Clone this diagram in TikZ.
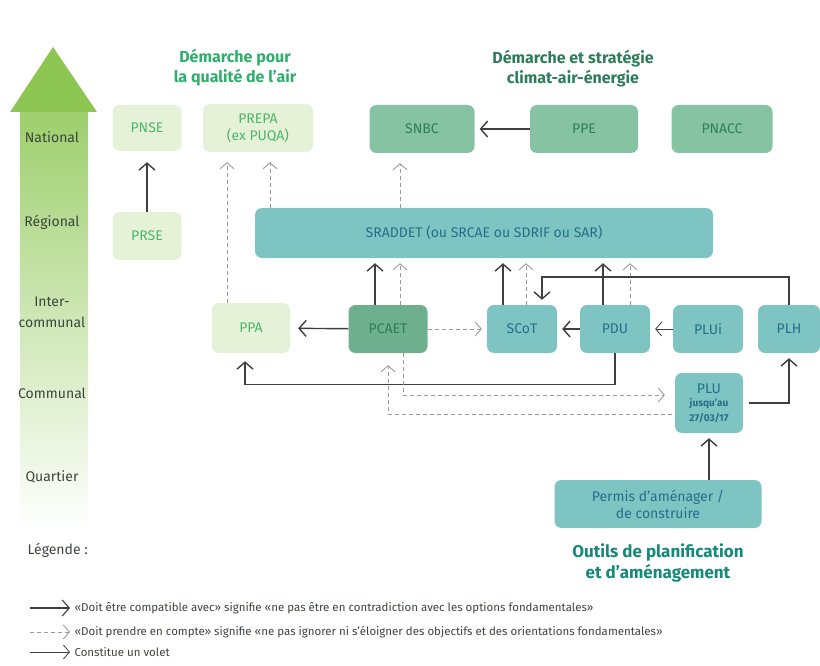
\documentclass[tikz,border=0pt]{standalone}
\usepackage{fontspec}
\setmainfont{Fira Sans}
\usetikzlibrary{arrows.meta}

\definecolor{airfill}{HTML}{E6F2D8}
\definecolor{airtext}{HTML}{4DB56A}
\definecolor{climfill}{HTML}{86C3A3}
\definecolor{pcaetfill}{HTML}{6DAF8E}
\definecolor{climtext}{HTML}{2F7D5A}
\definecolor{planfill}{HTML}{7EC4C2}
\definecolor{plantext}{HTML}{23708A}
\definecolor{airtitle}{HTML}{2FAE6C}
\definecolor{climtitle}{HTML}{2E7D5A}
\definecolor{plantitle}{HTML}{17897A}
\definecolor{levelgreen}{HTML}{8DC653}
\definecolor{linkgray}{HTML}{3F3F3F}
\definecolor{dashgray}{HTML}{9A9A9A}
\definecolor{labelgray}{HTML}{3C463C}

\begin{document}
\begin{tikzpicture}[x=1pt, y=-1pt,
    box/.style={rounded corners=7pt, inner sep=2pt, align=center, minimum height=48pt, font=\fontsize{14}{17}\selectfont},
    airbox/.style={box, fill=airfill, text=airtext},
    climbox/.style={box, fill=climfill, text=climtext},
    planbox/.style={box, fill=planfill, text=plantext},
    mustfit/.style={-{Straight Barb[length=7pt,width=16pt]}, draw=linkgray, line width=1.4pt, shorten >=5pt},
    mustcount/.style={-{Straight Barb[length=6pt,width=14pt]}, draw=dashgray, line width=0.9pt, dash pattern=on 4pt off 3pt, shorten >=5pt},
    volet/.style={-{Straight Barb[length=6pt,width=14pt]}, draw=linkgray, line width=0.8pt, shorten >=5pt},
    level/.style={text=labelgray, font=\fontsize{14}{21}\selectfont, align=center},
    heading/.style={font=\bfseries\fontsize{16}{20}\selectfont, align=center}]
\useasboundingbox (0,0) rectangle (820,666);

% echelle des niveaux
\shade[top color=levelgreen!85!white, bottom color=white] (20,111) rectangle (88,530);
\fill[levelgreen] (10,112) -- (53,47) -- (97,112) -- cycle;
\node[level] (national) at (52,137) {National};
\node[level] (regional) at (52,222) {Régional};
\node[level] (intercom) at (52,312) {Inter-\\communal};
\node[level] (communal) at (52,393) {Communal};
\node[level] (quartier) at (52,477) {Quartier};

% titres
\node[heading, text=airtitle] (titleair) at (235,68) {Démarche pour\\la qualité de l'air};
\node[heading, text=climtitle] (titleclim) at (573,69) {Démarche et stratégie\\climat-air-énergie};
\node[heading, text=plantitle, font=\bfseries\fontsize{17}{21}\selectfont] (titleplan) at (658,563) {Outils de planification\\et d'aménagement};

% documents
\node[airbox, minimum width=69pt, minimum height=46pt] (pnse) at (147,128) {PNSE};
\node[airbox, minimum width=110pt] (prepa) at (258,128) {PREPA\\(ex PUQA)};
\node[climbox, minimum width=105pt] (snbc) at (422,129) {SNBC};
\node[climbox, minimum width=108pt] (ppe) at (584,129) {PPE};
\node[climbox, minimum width=101pt] (pnacc) at (722,129) {PNACC};
\node[airbox, minimum width=69pt] (prse) at (147,236) {PRSE};
\node[planbox, minimum width=458pt, minimum height=50pt] (sraddet) at (484,233) {SRADDET (ou SRCAE ou SDRIF ou SAR)};
\node[airbox, minimum width=78pt, minimum height=50pt] (ppa) at (251,328) {PPA};
\node[climbox, fill=pcaetfill, minimum width=79pt] (pcaet) at (388,329) {PCAET};
\foreach \name/\x/\txt in {scot/522/SCoT, pdu/615/PDU, plui/708/PLUi}
    \node[planbox, minimum width=70pt] (\name) at (\x,329) {\txt};
\node[planbox, minimum width=62pt] (plh) at (789,329) {PLH};
\node[planbox, minimum width=68pt, minimum height=60pt] (plu) at (709,403)
    {PLU\\[-4pt]{\bfseries\fontsize{10}{11}\selectfont jusqu'au}\\[-2pt]{\bfseries\fontsize{10}{11}\selectfont 27/03/17}};
\node[planbox, minimum width=207pt] (permis) at (658,504) {Permis d'aménager /\\de construire};

% liens national / regional
\draw[mustfit, shorten >=11pt] (prse) -- (pnse);
\draw[mustfit] (ppe) -- (snbc);
\draw[mustcount, shorten >=10pt] ([xshift=-22pt]snbc.south |- sraddet.north) -- ([xshift=-22pt]snbc.south);
\draw[mustcount, shorten >=10pt] ([xshift=12pt]prepa.south |- sraddet.north) -- ([xshift=12pt]prepa.south);
\draw[mustcount, shorten >=10pt] ([xshift=-31pt]prepa.south |- ppa.north) -- ([xshift=-31pt]prepa.south);

% liens vers le SRADDET
\draw[mustfit] ([xshift=-13pt]pcaet.north) -- ([xshift=-13pt]pcaet.north |- sraddet.south);
\draw[mustcount] ([xshift=12pt]pcaet.north) -- ([xshift=12pt]pcaet.north |- sraddet.south);
\draw[mustfit] ([xshift=-19pt]scot.north) -- ([xshift=-19pt]scot.north |- sraddet.south);
\draw[mustcount] ([xshift=4pt]scot.north) -- ([xshift=4pt]scot.north |- sraddet.south);
\draw[mustfit] ([xshift=-12pt]pdu.north) -- ([xshift=-12pt]pdu.north |- sraddet.south);
\draw[mustcount] ([xshift=15pt]pdu.north) -- ([xshift=15pt]pdu.north |- sraddet.south);

% liens intercommunal
\draw[mustfit, shorten >=8pt] (pcaet) -- (ppa);
\draw[mustcount] (pcaet) -- (scot);
\draw[mustfit] (pdu) -- (scot);
\draw[volet] (plui) -- (pdu);
\draw[mustfit] (plh.north) -- ++(0,-28) -| ([xshift=20pt]scot.north);
\draw[mustfit, shorten >=8pt] (pdu.south) -- ++(0,31) -| ([xshift=-6pt]ppa.south);

% liens communal
\draw[mustfit, shorten <=6pt, shorten >=5pt] (plu.east) -| (plh.south);
\draw[mustfit] (plu.south |- permis.north) -- (plu.south);
\draw[mustcount, shorten >=10pt] ([xshift=15pt]pcaet.south) |- ([yshift=8pt]plu.west);
\draw[mustcount, shorten >=12pt, shorten <=3pt] ([yshift=-11pt]plu.west) -| (pcaet.south);

% legende
\node[level, anchor=west] (legende) at (24,550) {Légende :};
\coordinate (fitstart) at (30,608);
\coordinate (countstart) at (30,632);
\coordinate (voletstart) at (30,652);
\node[anchor=west, text=labelgray, font=\fontsize{11.5}{13}\selectfont] (fitnote) at (71,608)
    {«Doit être compatible avec» signifie «ne pas être en contradiction avec les options fondamentales»};
\node[anchor=west, text=labelgray, font=\fontsize{11.5}{13}\selectfont] (countnote) at (71,632)
    {«Doit prendre en compte» signifie «ne pas ignorer ni s'éloigner des objectifs et des orientations fondamentales»};
\node[anchor=west, text=labelgray, font=\fontsize{11.5}{13}\selectfont] (voletnote) at (71,652)
    {Constitue un volet};
\draw[mustfit, line width=1.1pt, shorten >=1pt] (fitstart) -- (fitnote.west);
\draw[mustcount, shorten >=1pt] (countstart) -- (countnote.west);
\draw[volet, shorten >=1pt] (voletstart) -- (voletnote.west);
\end{tikzpicture}
\end{document}
